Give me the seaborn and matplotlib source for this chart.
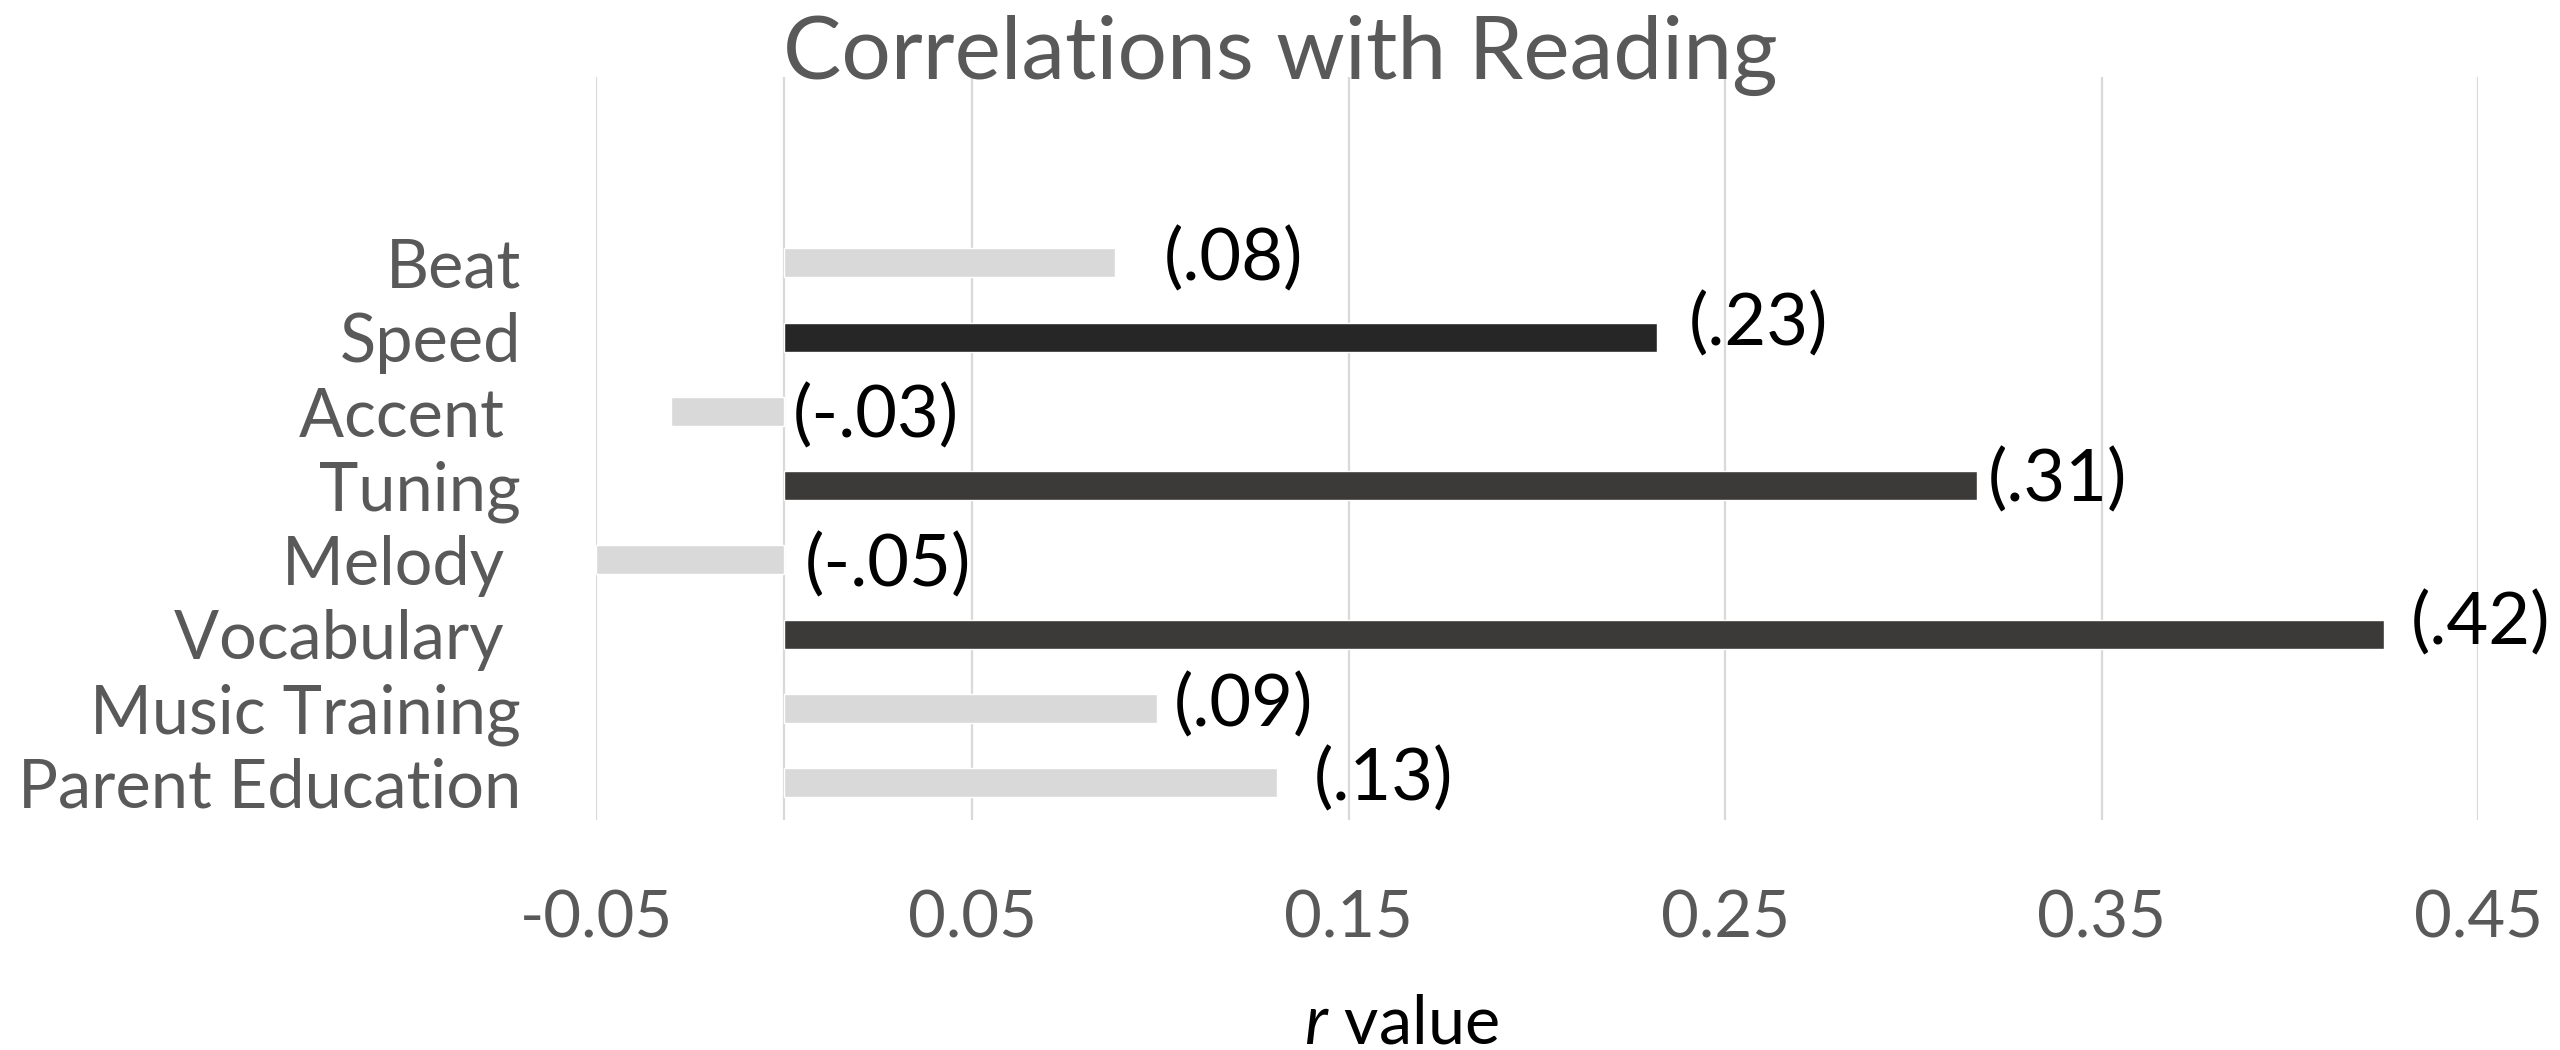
import numpy as np
import pandas as pd
import seaborn as sns
import matplotlib.pyplot as plt

# data
measures = ["Beat", "Speed", "Accent ", "Tuning", "Melody ", "Vocabulary ",
            "Music Training", "Parent Education"]
r_values = [0.088, 0.232, -0.030, 0.317, -0.050, 0.425, 0.099, 0.131]
r_labels = ["(.08)", "(.23)", "(-.03)", "(.31)", "(-.05)", "(.42)", "(.09)", "(.13)"]
significant = [False, True, False, True, False, True, False, False]
x_ticks = [-0.05, 0.05, 0.15, 0.25, 0.35, 0.45]

df = pd.DataFrame({"measure": measures, "r": r_values})

# colours per bar
light = "#D9D9D9"
dark = ["#262626", "#3B3A39", "#3B3A39"]
palette = {}
k = 0
for m, sig in zip(measures, significant):
    if sig:
        palette[m] = dark[k]
        k += 1
    else:
        palette[m] = light

sns.set_theme(style="white")
plt.rcParams["font.family"] = ["Lato", "DejaVu Sans"]
plt.rcParams["mathtext.fontset"] = "custom"
plt.rcParams["mathtext.rm"] = "Lato"
plt.rcParams["mathtext.it"] = "Lato:italic"

fig = plt.figure(figsize=(25.6, 10.5), dpi=100)
ax = fig.add_axes([596 / 2560, 1 - 820 / 1050, (2478 - 596) / 2560, 743 / 1050])

sns.barplot(data=df, x="r", y="measure", hue="measure", palette=palette,
            order=measures, orient="h", width=0.39, legend=False, ax=ax,
            saturation=1)

ax.set_xlim(-0.05, 0.45)
ax.set_ylim(7.5, -2.5)
ax.set_xticks(x_ticks)
ax.set_xticklabels([f"{t:.2f}" for t in x_ticks])
ax.grid(axis="x", color="#D9D9D9", linewidth=1.6)
ax.set_axisbelow(True)
ax.axvline(0, color="#D9D9D9", linewidth=1.6, zorder=0.5)
for s in ax.spines.values():
    s.set_visible(False)

ax.tick_params(axis="y", length=0, pad=54, labelsize=48, labelcolor="#595959")
ax.tick_params(axis="x", length=0, pad=50, labelsize=47, labelcolor="#595959")
ax.set_ylabel("")

ax.set_xlabel("$r$ value", fontsize=48, color="black", va="baseline")
ax.xaxis.set_label_coords((1401 - 596) / 1882, (820 - 1043) / 743)

# value labels, small hand offsets (px) like the original
dx_px = [48, 31, 9, 10, 21, 27, 17, 36]
dy_px = [3, 13, -5, 5, -5, 11, 3, 4]
for i, (v, lab) in enumerate(zip(r_values, r_labels)):
    ax.annotate(lab, xy=(max(v, 0), i), xytext=(dx_px[i] * 0.72, dy_px[i] * 0.72),
                textcoords="offset points", ha="left", va="center",
                fontsize=52, color="black")

fig.suptitle("Correlations with Reading", x=0.5, y=1 - 79 / 1050, va="baseline",
             fontsize=63, color="#595959")

plt.savefig("out.png", dpi=100)
